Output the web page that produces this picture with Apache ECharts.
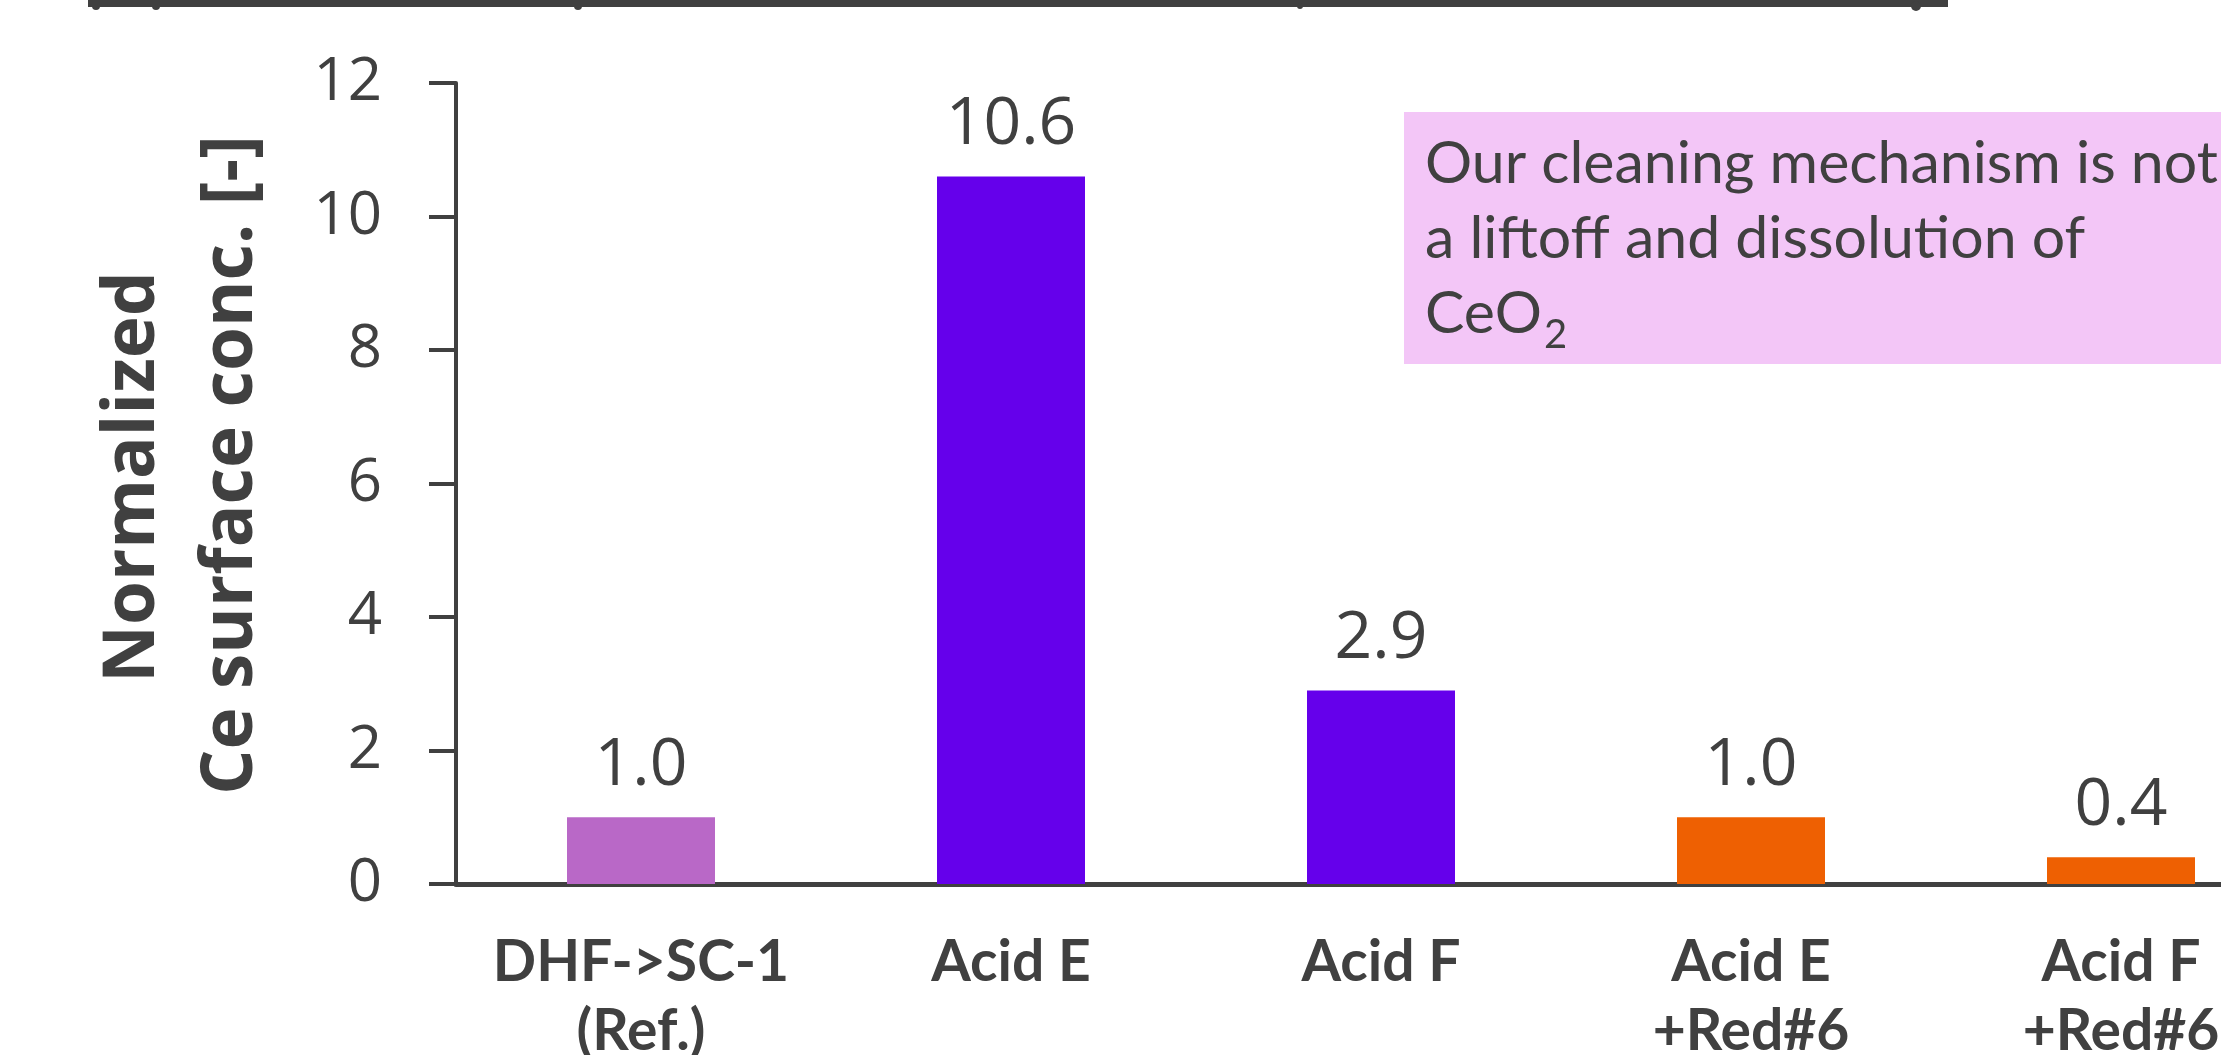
<!DOCTYPE html>
<html>
<head>
<meta charset="utf-8">
<title>Normalized Ce surface concentration</title>
<script src="https://cdn.jsdelivr.net/npm/echarts@6/dist/echarts.min.js"></script>
<style>
  html, body { margin: 0; padding: 0; background: #ffffff; }
  #chart { width: 2221px; height: 1055px; }
</style>
</head>
<body>
<div id="chart"></div>
<script>
// Cleaning recipes along the x axis
const categories = ['DHF->SC-1\n(Ref.)', 'Acid E', 'Acid F', 'Acid E\n+Red#6', 'Acid F\n+Red#6'];
// Ce surface concentration, normalized to the reference recipe
const ceValues = [1.0, 10.6, 2.9, 1.0, 0.4];
// Bar colours per recipe group
const barColors = ['#B968C7', '#6500EB', '#6500EB', '#EE6002', '#EE6002'];
// Y axis ticks
const yTicks = [0, 2, 4, 6, 8, 10, 12];

const textColor = '#404040';
const noteFont = '59px Lato';
const chart = echarts.init(document.getElementById('chart'), null, { renderer: 'canvas' });

// width of "CeO" so the subscript 2 can sit right after it
const measureCtx = document.createElement('canvas').getContext('2d');
measureCtx.font = noteFont;
const ceoWidth = measureCtx.measureText('CeO').width;

const option = {
  backgroundColor: '#ffffff',
  animation: false,
  grid: {
    left: 456, top: 83, width: 1850, height: 801,
    containLabel: false,
    outerBoundsMode: 'none'
  },
  xAxis: [
    {
      type: 'category',
      data: categories,
      position: 'bottom',
      axisLine: { show: true, onZero: false, lineStyle: { color: textColor, width: 5 } },
      axisTick: { show: false },
      axisLabel: {
        margin: 44,
        color: textColor,
        fontFamily: 'Lato',
        fontWeight: 'bold',
        fontSize: 57,
        lineHeight: 69,
        interval: 0
      },
      splitLine: { show: false }
    },
    {
      // plain frame line along the top of the plot
      type: 'category',
      data: categories,
      position: 'top',
      axisLine: { show: true, lineStyle: { color: textColor, width: 4 } },
      axisTick: { show: false },
      axisLabel: { show: false },
      splitLine: { show: false }
    }
  ],
  yAxis: {
    type: 'value',
    min: yTicks[0],
    max: yTicks[yTicks.length - 1],
    interval: 2,
    axisLine: { show: true, lineStyle: { color: textColor, width: 4 } },
    axisTick: { show: true, inside: false, length: 27, lineStyle: { color: textColor, width: 4 } },
    axisLabel: {
      margin: 74,
      color: textColor,
      fontFamily: 'Open Sans',
      fontSize: 60
    },
    splitLine: { show: false }
  },
  series: [
    {
      type: 'bar',
      xAxisIndex: 0,
      barWidth: 148,
      data: ceValues.map((v, i) => ({ value: v, itemStyle: { color: barColors[i] } })),
      label: {
        show: true,
        position: 'top',
        distance: 18,
        color: textColor,
        fontFamily: 'Open Sans',
        fontSize: 66,
        lineHeight: 66,
        formatter: p => p.value.toFixed(1)
      }
    }
  ],
  graphic: [
    // underline of the heading above the chart
    { type: 'rect', shape: { x: 88, y: 0, width: 1860, height: 7 }, style: { fill: textColor } },
    { type: 'circle', shape: { cx: 96, cy: 6, r: 4 }, style: { fill: textColor } },
    { type: 'circle', shape: { cx: 156, cy: 6, r: 4 }, style: { fill: textColor } },
    { type: 'circle', shape: { cx: 578, cy: 6, r: 4 }, style: { fill: textColor } },
    { type: 'circle', shape: { cx: 1300, cy: 6, r: 3 }, style: { fill: textColor } },
    { type: 'circle', shape: { cx: 1916, cy: 6, r: 5 }, style: { fill: textColor } },
    // y axis title, two rotated lines
    {
      type: 'text',
      x: 134,
      y: 477,
      rotation: Math.PI / 2,
      style: {
        text: 'Normalized',
        fill: textColor,
        font: 'bold 71px "Open Sans"',
        align: 'center',
        verticalAlign: 'middle'
      }
    },
    {
      type: 'text',
      x: 232,
      y: 465,
      rotation: Math.PI / 2,
      style: {
        text: 'Ce surface conc. [-]',
        fill: textColor,
        font: 'bold 71px "Open Sans"',
        align: 'center',
        verticalAlign: 'middle'
      }
    },
    // call-out box
    {
      type: 'rect',
      shape: { x: 1404, y: 112, width: 900, height: 252 },
      style: { fill: '#F3C6F7' }
    },
    {
      type: 'text',
      x: 1425,
      y: 126,
      style: {
        text: 'Our cleaning mechanism is not\na liftoff and dissolution of\nCeO',
        fill: textColor,
        font: noteFont,
        align: 'left',
        verticalAlign: 'top',
        lineHeight: 75
      }
    },
    {
      type: 'text',
      x: 1425 + ceoWidth + 2,
      y: 335,
      style: {
        text: '2',
        fill: textColor,
        font: '40px Lato',
        align: 'left',
        verticalAlign: 'middle'
      }
    }
  ]
};

chart.setOption(option);
</script>
</body>
</html>
